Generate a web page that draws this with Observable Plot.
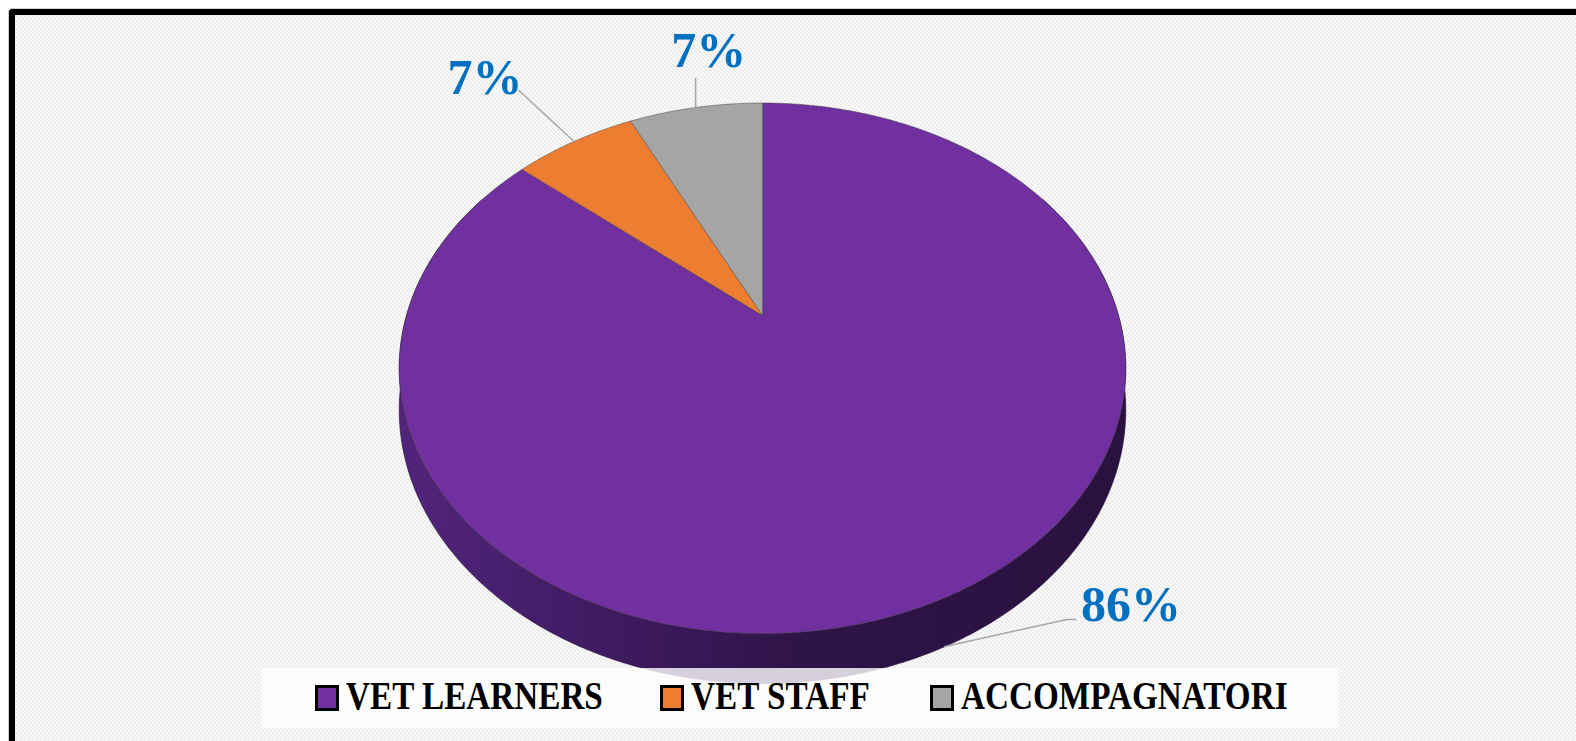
<!DOCTYPE html>
<html>
<head>
<meta charset="utf-8">
<script src="https://cdn.jsdelivr.net/npm/d3@7"></script>
<script src="https://cdn.jsdelivr.net/npm/@observablehq/plot@0.6"></script>
<style>
  html, body { margin: 0; padding: 0; background: #fff; overflow: hidden; }
  #wrap { position: relative; width: 1576px; height: 741px; overflow: hidden; background: #fff; }
  #frame {
    position: absolute; left: 9px; top: 9px; width: 1700px; height: 900px;
    border-top: 6px solid #000; border-left: 6px solid #000; border-top-left-radius: 4px;
    background-color: #ffffff;
    background-image: url("data:image/svg+xml,%3Csvg xmlns='http://www.w3.org/2000/svg' width='4' height='4'%3E%3Cpath d='M0 0L4 4M-1 3L1 5M3 -1L5 1' stroke='%23ebebeb' stroke-width='1.6'/%3E%3C/svg%3E");
    background-size: 4px 4px;
    box-shadow: -1px -1px 0 #d0d0d0;
  }
  #chart { position: absolute; left: 0; top: 0; }
  #legend {
    position: absolute; left: 262px; top: 668px; width: 1076px; height: 60px;
    background: rgba(255,255,255,0.8);
  }
  .sw { position: absolute; top: 17px; width: 18px; height: 20px; border: 3px solid #000; }
  .lb {
    position: absolute; top: 7px; font-family: "Liberation Serif", serif; font-weight: bold;
    font-size: 41px; line-height: 41px; white-space: nowrap; color: #000;
    transform: scaleX(0.81); transform-origin: 0 0;
  }
</style>
</head>
<body>
<div id="wrap">
  <div id="frame"></div>
  <div id="legend"></div>
</div>
<script>
// ---- data ----
const categories = ["VET LEARNERS", "VET STAFF", "ACCOMPAGNATORI"];
const shares = [86.2, 6.6, 7.2];            // percent
const colors = ["#7030a0", "#ed7d31", "#a5a5a5"];
const legendX = [53, 398, 668];            // legend item offsets inside the legend box (layout)

// ---- layout of the 3D pie (screen geometry) ----
const CX = 762, CY = 315;     // projected centre of the top face
const A = 356, B = 254.8;     // horizontal / vertical half-axes
const K = 0.199;              // perspective strength
const DEPTH = 40 / B;         // thickness of the disc (in y units)
const deg = Math.PI / 180;

// label / leader layout: pixel offsets
const leaderLayout = [
  {face: "bottom", bend: [122, -27], tail: 9, text: [55, -15]},
  {face: "top",    bend: [-55, -51], tail: 0, text: [-34, -13]},
  {face: "top",    bend: [0, -29],   tail: 0, text: [13, -28]}
];

function P(theta, r = 1, drop = 0) {
  const u = r * Math.sin(theta), v = -r * Math.cos(theta);
  const w = 1 - K * v;
  return {x: u / w, y: (v + drop) / w};
}

const arcs = d3.pie().sort(null).value(d => d)(shares);

// top-face slices
const sliceRows = arcs.flatMap((a, i) => {
  const pts = [P(0, 0)];
  const n = Math.max(2, Math.ceil((a.endAngle - a.startAngle) / (0.5 * deg)));
  for (let j = 0; j <= n; j++) pts.push(P(a.startAngle + (a.endAngle - a.startAngle) * j / n));
  return pts.map(p => ({...p, slice: categories[i], color: colors[i]}));
});

// visible side band (front half)
const visLo = 60 * deg, visHi = 300 * deg;
const sideMarks = [];
arcs.forEach((a, i) => {
  const s = Math.max(a.startAngle, visLo), e = Math.min(a.endAngle, visHi);
  if (e <= s) return;
  const n = Math.ceil((e - s) / (0.5 * deg));
  const pts = [];
  for (let j = 0; j <= n; j++) pts.push(P(s + (e - s) * j / n));
  for (let j = n; j >= 0; j--) pts.push(P(s + (e - s) * j / n, 1, DEPTH));
  const fill = i === 0 ? "url(#sideGrad)" : d3.color(colors[i]).darker(1.6).formatHex();
  sideMarks.push(Plot.line(pts, {x: "x", y: "y", fill, stroke: "#2a0f3c", strokeWidth: 0.8, strokeOpacity: 0.8, curve: "linear-closed"}));
});

// shadow under the disc
const shadowRows = d3.range(0, 361, 1).map(t => P(t * deg, 1.0, DEPTH + 0.02));

// leader lines + labels
const leaderRows = [], labelRows = [];
const total = d3.sum(shares);
arcs.forEach((a, i) => {
  const L = leaderLayout[i];
  const mid = (a.startAngle + a.endAngle) / 2;
  const p0 = P(mid, 1, L.face === "bottom" ? DEPTH : 0);
  const p1 = {x: p0.x + L.bend[0] / A, y: p0.y + L.bend[1] / B};
  const p2 = {x: p1.x + L.tail / A, y: p1.y};
  [p0, p1, p2].forEach(p => leaderRows.push({...p, slice: categories[i]}));
  labelRows.push({
    x: p2.x + L.text[0] / A, y: p2.y + L.text[1] / B,
    text: Math.round(100 * shares[i] / total) + "%"
  });
});

const defsMark = () => {
  const defs = document.createElementNS("http://www.w3.org/2000/svg", "defs");
  defs.innerHTML = `
    <linearGradient id="sideGrad" x1="0" x2="1" y1="0" y2="0">
      <stop offset="0" stop-color="#52247c"/>
      <stop offset="0.3" stop-color="#3e1a60"/>
      <stop offset="0.55" stop-color="#2f1447"/>
      <stop offset="1" stop-color="#2a113f"/>
    </linearGradient>
    <filter id="blurShadow" x="-20%" y="-20%" width="140%" height="140%">
      <feGaussianBlur stdDeviation="6"/>
    </filter>`;
  return defs;
};

const chart = Plot.plot({
  width: 1576, height: 741, margin: 0,
  style: {background: "transparent", overflow: "visible"},
  x: {domain: [-1, 1], range: [CX - A, CX + A], axis: null},
  y: {domain: [-1, 1], range: [CY - B, CY + B], axis: null},
  marks: [
    defsMark,
    Plot.line(shadowRows, {x: "x", y: "y", fill: "#000", fillOpacity: 0.45, stroke: "none", curve: "linear-closed", dx: 9, dy: 5, ariaLabel: "shadow"}),
    ...sideMarks,
    Plot.line(sliceRows, {x: "x", y: "y", z: "slice", fill: "color", stroke: "#3a3a3a", strokeWidth: 0.8, strokeOpacity: 0.6, strokeLinejoin: "round", curve: "linear-closed"}),
    Plot.line(leaderRows, {x: "x", y: "y", z: "slice", stroke: "#a6a6a6", strokeWidth: 1.5}),
    Plot.text(labelRows, {x: "x", y: "y", text: "text", fontSize: 50, fontWeight: "bold", fontFamily: "'Liberation Serif', serif", fill: "#0070c0", textAnchor: "middle", lineAnchor: "middle"})
  ]
});
chart.id = "chart";
const sh = chart.querySelector('g[aria-label="shadow"]');
if (sh) sh.setAttribute("filter", "url(#blurShadow)");
const wrap = document.getElementById("wrap");
wrap.insertBefore(chart, document.getElementById("legend"));

// legend
const legend = document.getElementById("legend");
categories.forEach((c, i) => {
  const sw = document.createElement("div");
  sw.className = "sw";
  sw.style.left = legendX[i] + "px";
  sw.style.background = colors[i];
  legend.appendChild(sw);
  const lb = document.createElement("div");
  lb.className = "lb";
  lb.style.left = (legendX[i] + 31) + "px";
  lb.textContent = c;
  legend.appendChild(lb);
});
</script>
</body>
</html>
